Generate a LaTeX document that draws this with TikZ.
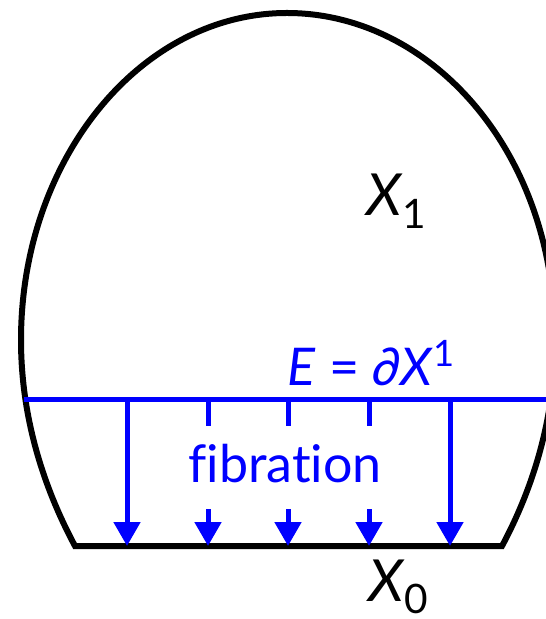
\documentclass[tikz,border=0pt]{standalone}
\usepackage{fontspec}
\setmainfont{Lato}[Ligatures=NoCommon]
\usetikzlibrary{arrows.meta}
\tikzset{
  rim/.style={line width=3pt, black, line join=miter},
  fib/.style={line width=2.5pt, blue},
  arr/.style={fib, -{Triangle[length=12pt,width=13pt]}},
  lbl/.style={font=\fontsize{26}{30}\selectfont, inner sep=0pt, anchor=base west},
  big/.style={lbl, font=\fontsize{29}{33}\selectfont},
}

\begin{document}
\begin{tikzpicture}[x=0.5pt,y=-0.5pt]
\useasboundingbox (0,0) rectangle (545,619);
% the space X
\draw[rim] (75,546) -- (502,546)
  .. controls (532,490) and (555,420) .. (555,340)
  .. controls (555,150) and (430,13) .. (287,13)
  .. controls (140,13) and (21,160) .. (21,340)
  .. controls (21,420) and (45,490) .. cycle;
% the boundary E
\coordinate (eL) at (24,399);
\coordinate (eR) at (550,399);
\draw[fib] (eL) -- (eR);
\node[lbl, text=blue] (elab) at (287,385) {\textit{E} = \textit{∂X}\textsuperscript{1}};
\node[lbl, text=blue, anchor=base] (fiblab) at (285,482) {fibration};
\node[big] (xone) at (366,216) {\textit{X}\textsubscript{1}};
\node[big] (xzero) at (368,601) {\textit{X}\textsubscript{0}};
% fibres
\foreach \i/\x in {1/127,2/450} {
  \coordinate (t\i) at (\x,399);
  \coordinate (b\i) at (\x,546);
  \draw[arr] (t\i) -- (b\i);
}
\foreach \i/\x in {3/208,4/288,5/369} {
  \coordinate (t\i) at (\x,399);
  \coordinate (s\i) at (\x,426);
  \coordinate (m\i) at (\x,509);
  \coordinate (b\i) at (\x,546);
  \draw[fib] (t\i) -- (s\i);
  \draw[arr] (m\i) -- (b\i);
}
\end{tikzpicture}
\end{document}
